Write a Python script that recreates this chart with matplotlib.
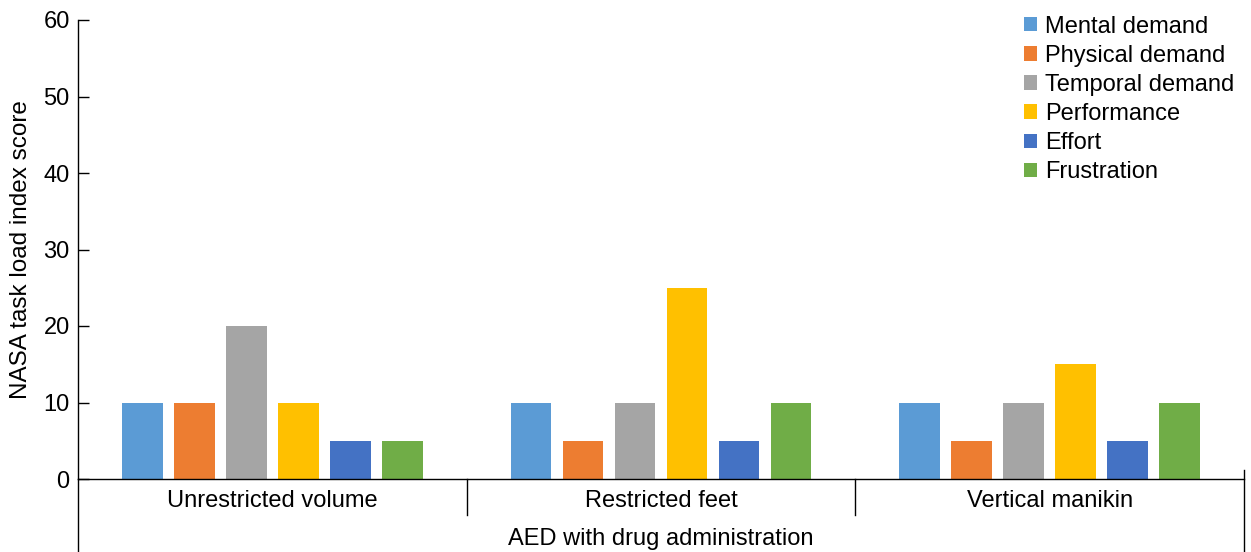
import matplotlib.pyplot as plt
import numpy as np

plt.rcParams['font.family'] = ['Liberation Sans', 'DejaVu Sans']

groups = ['Unrestricted volume', 'Restricted feet', 'Vertical manikin']
series = ['Mental demand', 'Physical demand', 'Temporal demand',
          'Performance', 'Effort', 'Frustration']
colors = ['#5B9BD5', '#ED7D31', '#A5A5A5', '#FFC000', '#4472C4', '#70AD47']
values = [
    [10, 10, 10],  # Mental demand
    [10, 5, 5],    # Physical demand
    [20, 10, 10],  # Temporal demand
    [10, 25, 15],  # Performance
    [5, 5, 5],     # Effort
    [5, 10, 10],   # Frustration
]
outer_label = 'AED with drug administration'

fig = plt.figure(figsize=(12.51, 5.52), dpi=100)
ax = fig.add_axes([78 / 1251, 73 / 552, (1244 - 78) / 1251, (479 - 20) / 552])

x = np.arange(len(groups))
step = 0.1338
width = 0.105
for i, (name, vals) in enumerate(zip(series, values)):
    ax.bar(x + (i - 2.5) * step, vals, width, color=colors[i], label=name)

ax.set_xlim(-0.5, 2.5)
ax.set_ylim(0, 60)
ax.set_yticks(range(0, 61, 10))
ax.tick_params(axis='y', direction='in', length=8, width=1, labelsize=17, pad=6)
ax.set_xticks([])
for s in ['top', 'right']:
    ax.spines[s].set_visible(False)
ax.spines['left'].set_linewidth(1)
ax.spines['bottom'].set_linewidth(1)
ax.set_ylabel('NASA task load index score', fontsize=17.5, labelpad=8)

# group labels and separators
xt = ax.get_xaxis_transform()
for xi, g in zip(x, groups):
    ax.text(xi, -0.048, g, transform=xt, ha='center', va='center', fontsize=17)
for sx in [0.5, 1.5]:
    ax.plot([sx, sx], [0, -0.078], transform=xt, color='black', lw=1, clip_on=False)
ax.plot([-0.5, -0.5], [0, -0.17], transform=xt, color='black', lw=1, clip_on=False)
ax.plot([2.5, 2.5], [0.02, -0.17], transform=xt, color='black', lw=1, clip_on=False)
ax.text(1.0, -0.131, outer_label, transform=xt, ha='center', va='center', fontsize=17)

ax.legend(loc='upper right', bbox_to_anchor=(1.0, 1.03), frameon=False,
          fontsize=17, handlelength=0.55, handleheight=0.55, handletextpad=0.35,
          labelspacing=0.30, borderaxespad=0)

fig.savefig('out.png', dpi=100)
